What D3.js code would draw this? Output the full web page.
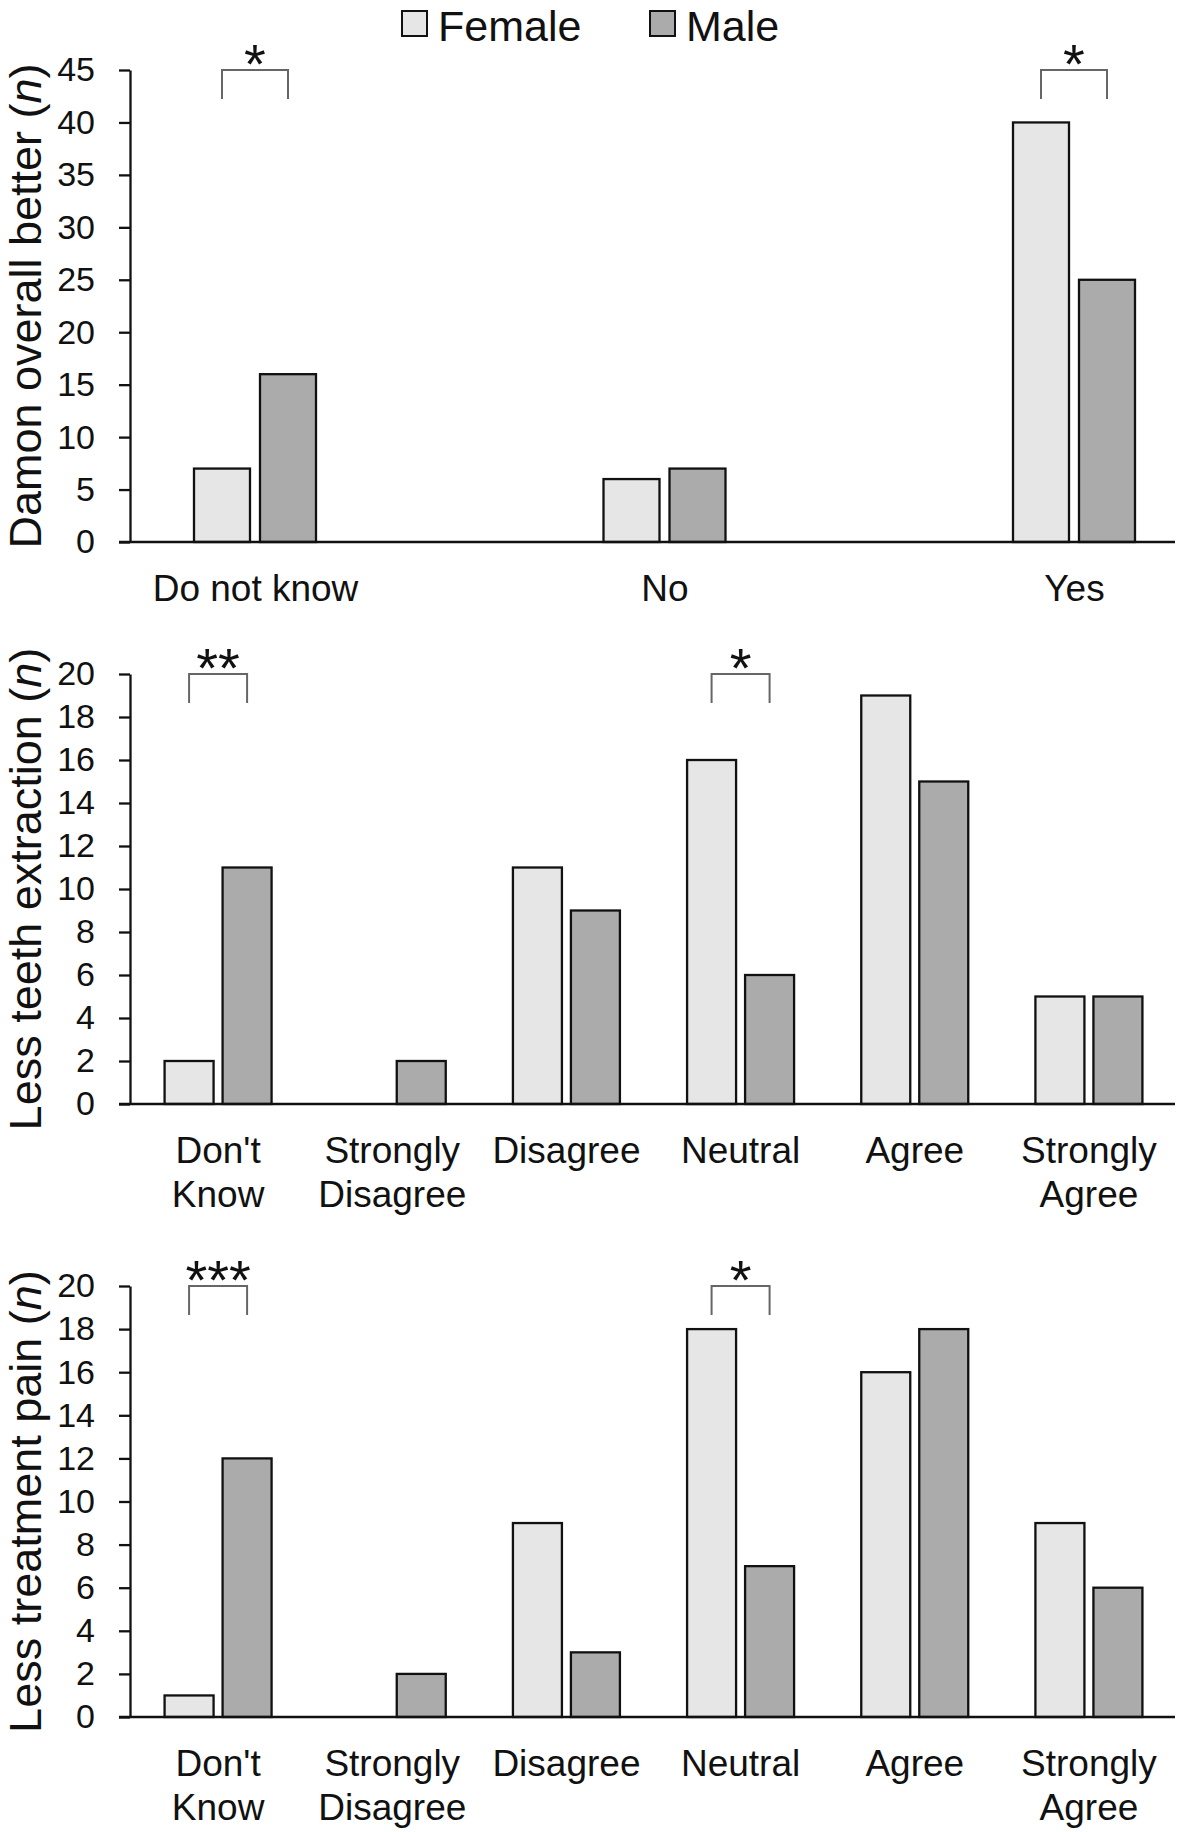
<!DOCTYPE html>
<html>
<head>
<meta charset="utf-8">
<script src="https://cdn.jsdelivr.net/npm/d3@7"></script>
<style>
  body { margin: 0; background: #fff; }
  text { font-family: "Liberation Sans", Arial, sans-serif; fill: #111; }
</style>
</head>
<body>
<div id="chart"></div>
<script>
// series
var series = ["Female", "Male"];
var seriesFill = ["#e6e6e6", "#ababab"];

// panel 1 - Damon overall better
var cats1 = ["Do not know", "No", "Yes"];
var labels1 = ["Do not know", "No", "Yes"];
var female1 = [7, 6, 40];
var male1 = [16, 7, 25];
var ticks1 = [0, 5, 10, 15, 20, 25, 30, 35, 40, 45];
var sigCats1 = ["Do not know", "Yes"];
var sigMarks1 = ["*", "*"];

// panel 2 - less teeth extraction
var cats2 = ["DK", "SD", "D", "N", "A", "SA"];
var labels2 = ["Don't\nKnow", "Strongly\nDisagree", "Disagree", "Neutral", "Agree", "Strongly\nAgree"];
var female2 = [2, 0, 11, 16, 19, 5];
var male2 = [11, 2, 9, 6, 15, 5];
var ticks2 = [0, 2, 4, 6, 8, 10, 12, 14, 16, 18, 20];
var sigCats2 = ["DK", "N"];
var sigMarks2 = ["**", "*"];

// panel 3 - less treatment pain
var female3 = [1, 0, 9, 18, 16, 9];
var male3 = [12, 2, 3, 7, 18, 6];
var ticks3 = [0, 2, 4, 6, 8, 10, 12, 14, 16, 18, 20];
var sigMarks3 = ["***", "*"];

var W = 1181, H = 1832;
var svg = d3.select("#chart").append("svg")
  .attr("width", W).attr("height", H);

svg.append("rect").attr("width", W).attr("height", H).attr("fill", "#fff");

function panel(opt) {
  var g = svg.append("g");
  var y = d3.scaleLinear().domain([0, opt.max]).range([opt.bottom, opt.top]);

  var x0 = opt.point
    ? d3.scalePoint().domain(opt.cats).range(opt.xRange)
    : d3.scaleBand().domain(opt.cats).range(opt.xRange);
  var half = x0.bandwidth() / 2;
  var groupW = opt.barW * 2 + opt.gap;
  var x1 = d3.scaleBand().domain(series)
    .range([-groupW / 2, groupW / 2])
    .paddingInner(opt.gap / (opt.barW + opt.gap));

  // bars
  var rows = [];
  opt.cats.forEach(function(c, i) {
    rows.push({cat: c, s: 0, v: opt.female[i]});
    rows.push({cat: c, s: 1, v: opt.male[i]});
  });
  g.selectAll("rect.bar").data(rows.filter(function(d) { return d.v > 0; }))
    .enter().append("rect")
    .attr("class", "bar")
    .attr("x", function(d) { return x0(d.cat) + half + x1(series[d.s]); })
    .attr("y", function(d) { return y(d.v); })
    .attr("width", x1.bandwidth())
    .attr("height", function(d) { return y(0) - y(d.v); })
    .attr("fill", function(d) { return seriesFill[d.s]; })
    .attr("stroke", "#111")
    .attr("stroke-width", 2.3);

  // y axis
  var ya = g.append("g")
    .attr("transform", "translate(130,0)")
    .call(d3.axisLeft(y).tickValues(opt.ticks).tickSize(11).tickSizeOuter(0).tickPadding(24));
  ya.select(".domain").attr("stroke", "#111").attr("stroke-width", 2.3);
  ya.selectAll(".tick line").attr("stroke", "#111").attr("stroke-width", 2.3);
  ya.selectAll(".tick text")
    .attr("font-size", 34).attr("fill", "#111")
    .attr("font-family", "Liberation Sans, Arial, sans-serif");

  // x axis baseline
  g.append("line")
    .attr("x1", 119).attr("x2", 1175)
    .attr("y1", y(0)).attr("y2", y(0))
    .attr("stroke", "#111").attr("stroke-width", 2.3);

  // category labels (axisBottom centres band ticks itself)
  var xa = g.append("g")
    .attr("transform", "translate(0," + y(0) + ")")
    .call(d3.axisBottom(x0).tickSize(0).tickFormat(function() { return ""; }));
  xa.select(".domain").remove();
  xa.selectAll(".tick").each(function(d, i) {
    var lines = opt.labels[i].split("\n");
    var t = d3.select(this).select("text")
      .attr("y", 0).attr("dy", null)
      .attr("font-size", 37).attr("fill", "#111")
      .attr("font-family", "Liberation Sans, Arial, sans-serif");
    lines.forEach(function(l, k) {
      t.append("tspan").attr("x", 0).attr("y", 59 + k * 44).text(l);
    });
  });

  // significance brackets
  opt.sigCats.forEach(function(c, i) {
    var xf = x0(c) + half + x1("Female") + x1.bandwidth() / 2;
    var xm = x0(c) + half + x1("Male") + x1.bandwidth() / 2;
    var yt = y(opt.max), yb = yt + 29;
    g.append("path")
      .attr("d", "M" + xf + "," + yb + "L" + xf + "," + yt + "L" + xm + "," + yt + "L" + xm + "," + yb)
      .attr("fill", "none").attr("stroke", "#666").attr("stroke-width", 2);
    g.append("text")
      .attr("x", (xf + xm) / 2).attr("y", yt + 13)
      .attr("text-anchor", "middle")
      .attr("font-size", 56).attr("fill", "#333")
      .text(opt.sigMarks[i]);
  });

  // y title
  var t = g.append("text")
    .attr("transform", "translate(41," + (opt.top + opt.bottom) / 2 + ") rotate(-90)")
    .attr("text-anchor", "middle")
    .attr("font-size", 45);
  t.append("tspan").text(opt.title + " (");
  t.append("tspan").attr("font-style", "italic").text("n");
  t.append("tspan").text(")");
  return g;
}

panel({
  top: 70, bottom: 542, max: 45, ticks: ticks1,
  cats: cats1, labels: labels1, female: female1, male: male1,
  point: true, xRange: [255, 1074], barW: 56, gap: 10,
  sigCats: sigCats1, sigMarks: sigMarks1, title: "Damon overall better"
});
panel({
  top: 674, bottom: 1104, max: 20, ticks: ticks2,
  cats: cats2, labels: labels2, female: female2, male: male2,
  point: false, xRange: [131, 1176], barW: 49, gap: 9,
  sigCats: sigCats2, sigMarks: sigMarks2, title: "Less teeth extraction"
});
panel({
  top: 1286, bottom: 1717, max: 20, ticks: ticks3,
  cats: cats2, labels: labels2, female: female3, male: male3,
  point: false, xRange: [131, 1176], barW: 49, gap: 9,
  sigCats: sigCats2, sigMarks: sigMarks3, title: "Less treatment pain"
});

// legend
var leg = svg.append("g");
var legX = [402, 650];
series.forEach(function(s, i) {
  leg.append("rect")
    .attr("x", legX[i]).attr("y", 11).attr("width", 25).attr("height", 25)
    .attr("fill", seriesFill[i]).attr("stroke", "#111").attr("stroke-width", 2);
  leg.append("text")
    .attr("x", legX[i] + 36).attr("y", 41)
    .attr("font-size", 43)
    .text(s);
});
</script>
</body>
</html>
